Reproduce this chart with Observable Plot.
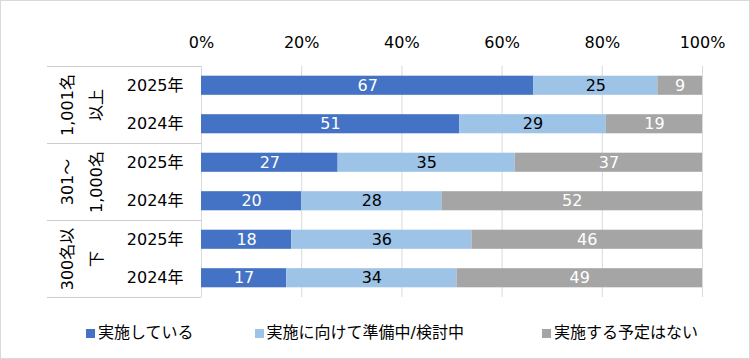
<!DOCTYPE html>
<html><head><meta charset="utf-8">
<script src="https://cdn.jsdelivr.net/npm/d3@7"></script>
<script src="https://cdn.jsdelivr.net/npm/@observablehq/plot@0.6"></script>
<style>
body{margin:0;background:#fff;}
#wrap{position:relative;width:750px;height:359px;outline:1px solid #d9d9d9;outline-offset:-1px;font-family:"DejaVu Sans","Noto Sans CJK JP",sans-serif;overflow:hidden}
#wrap svg{display:block}
#legend{position:absolute;top:322px;left:86px;display:flex;font-size:16px;line-height:22px;color:#000}
.item{display:flex;align-items:center}
.sw{width:9px;height:9px;margin-right:3px}
</style></head><body><div id="wrap"></div>
<script>
const groups = ["1,001名\n以上", "301～\n1,000名", "300名以\n下"];
const years = ["2025年", "2024年"];
const series = ["実施している", "実施に向けて準備中/検討中", "実施する予定はない"];
const colors = ["#4472C4", "#9DC3E6", "#A5A5A5"];
const implemented = [67, 51, 27, 20, 18, 17];
const preparing   = [25, 29, 35, 28, 36, 34];
const notPlanned  = [9, 19, 37, 52, 46, 49];
const xTicks = [0, 0.2, 0.4, 0.6, 0.8, 1];

const valuesBySeries = [implemented, preparing, notPlanned];
const rows = [];
groups.forEach((g, gi) => years.forEach((y, yi) => rows.push({group: g, gi, year: y, row: gi * years.length + yi})));
const data = [];
rows.forEach(r => series.forEach((s, si) => data.push({row: r.row, series: s, value: valuesBySeries[si][r.row]})));
const groupData = groups.map((g, gi) => ({label: g, mid: gi * years.length + years.length / 2}));
const bounds = d3.range(groups.length + 1).map(i => i * years.length);

const dark = series[1];
const plot = Plot.plot({
  width: 750, height: 310,
  marginLeft: 201, marginRight: 48, marginTop: 66, marginBottom: 13,
  style: {fontFamily: "'DejaVu Sans', 'Noto Sans CJK JP', sans-serif", fontSize: "16px", color: "#000", background: "transparent"},
  x: {domain: [0, 1], ticks: xTicks, tickFormat: d3.format(".0%"), axis: "top", tickSize: 0, tickPadding: 19, label: null},
  y: {domain: [0, rows.length], reverse: true, axis: null},
  color: {domain: series, range: colors},
  marks: [
    Plot.ruleX(xTicks, {x: d => d, y1: 0, y2: rows.length, stroke: "#d9d9d9", strokeWidth: 1}),
    Plot.ruleY(bounds, {y: d => d, x1: 0, x2: 0, insetLeft: -154, stroke: "#cccccc", strokeWidth: 1}),
    Plot.rectX(data, Plot.stackX({x: "value", y: "row", interval: 1, z: "series", fill: "series", offset: "normalize", insetTop: 9.7, insetBottom: 9.7})),
    Plot.text(data, Plot.stackX({x: "value", y: d => d.row + 0.5, z: "series", offset: "normalize",
      text: d => d.series === dark ? null : String(d.value), fill: "#fff", fontSize: 16})),
    Plot.text(data, Plot.stackX({x: "value", y: d => d.row + 0.5, z: "series", offset: "normalize",
      text: d => d.series === dark ? String(d.value) : null, fill: "#000", fontSize: 16})),
    Plot.text(rows, {x: 0, y: d => d.row + 0.5, text: "year", textAnchor: "end", dx: -18, fill: "#000", fontSize: 16}),
    Plot.text(groupData, {x: 0, y: "mid", text: "label", rotate: -90, dx: -123.5, lineHeight: 1.8, fill: "#000", fontSize: 16})
  ]
});
const wrap = document.getElementById("wrap");
wrap.appendChild(plot);
const legend = document.createElement("div");
legend.id = "legend";
const itemGaps = [0, 61, 78];
series.forEach((s, i) => {
  const it = document.createElement("div");
  it.className = "item";
  it.style.marginLeft = itemGaps[i] + "px";
  const sw = document.createElement("span");
  sw.className = "sw";
  sw.style.background = colors[i];
  const t = document.createElement("span");
  t.textContent = s;
  it.appendChild(sw); it.appendChild(t);
  legend.appendChild(it);
});
wrap.appendChild(legend);
</script></body></html>
